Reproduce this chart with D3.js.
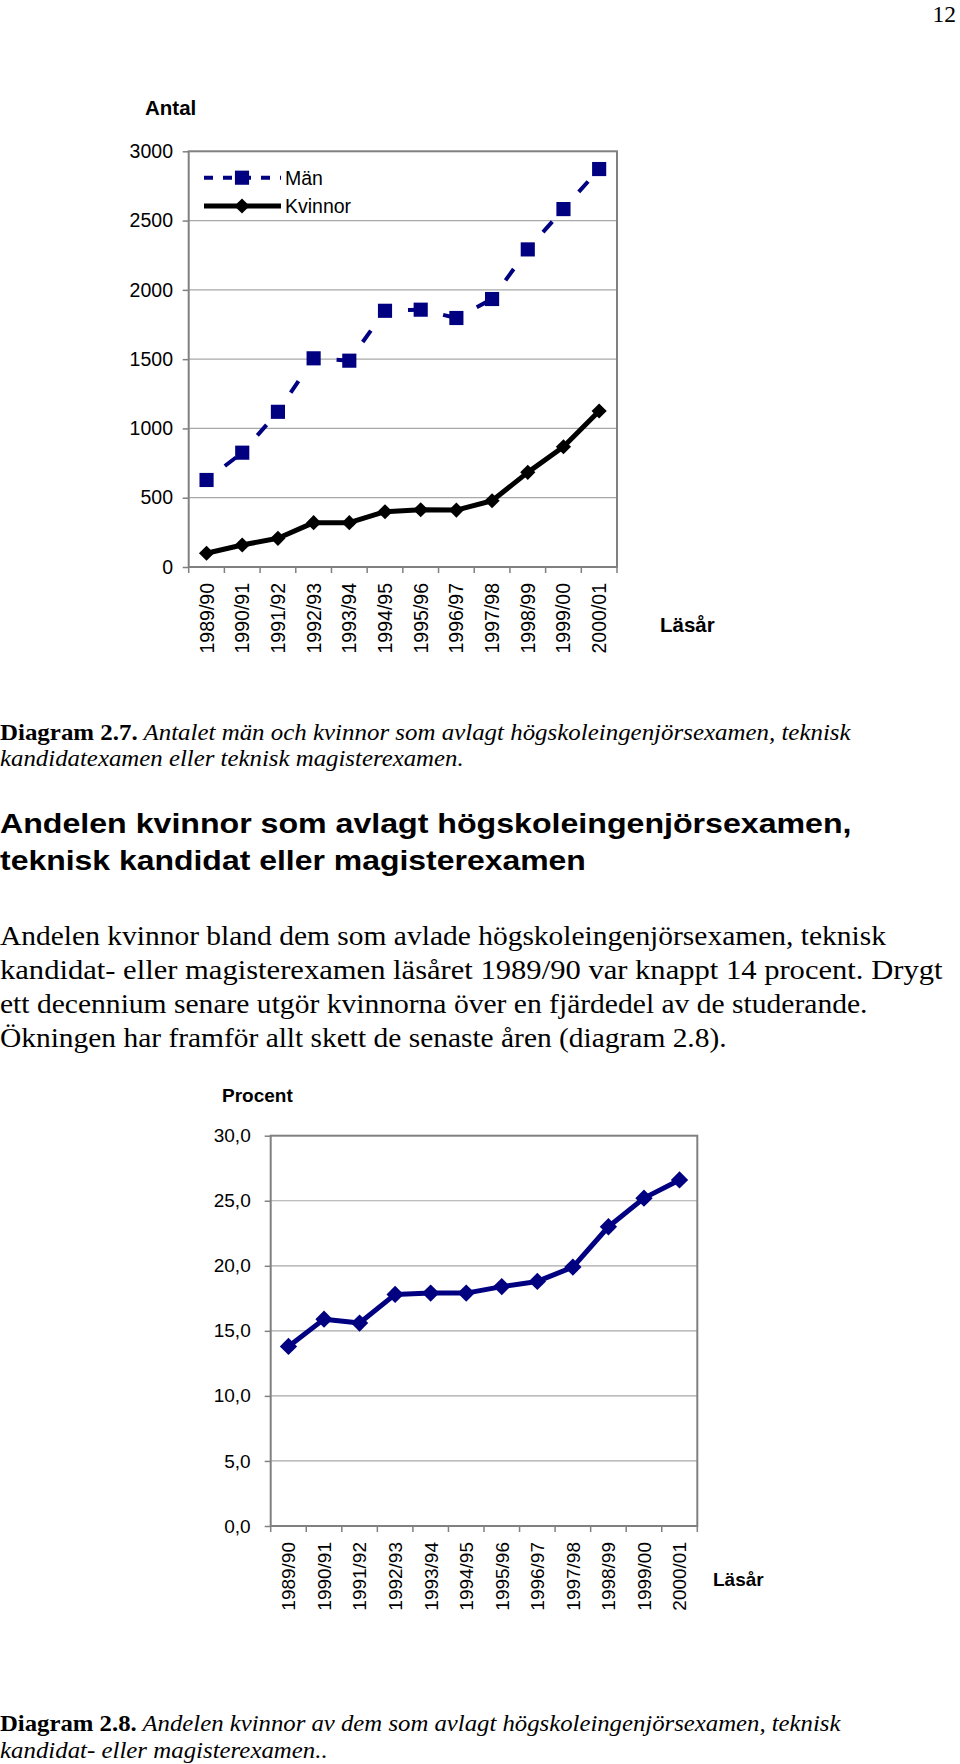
<!DOCTYPE html>
<html><head><meta charset="utf-8">
<script src="https://cdn.jsdelivr.net/npm/d3@7"></script>
<style>body{margin:0;background:#fff} svg{display:block}</style>
</head><body>
<svg id="c" width="960" height="1764"></svg>
<script>
// ---------- DATA ----------
const categories = ["1989/90","1990/91","1991/92","1992/93","1993/94","1994/95","1995/96","1996/97","1997/98","1998/99","1999/00","2000/01"];
const manValues = [628, 825, 1120, 1506, 1489, 1849, 1857, 1797, 1934, 2292, 2583, 2872];
const kvinnorValues = [99, 159, 207, 320, 320, 399, 413, 411, 478, 683, 868, 1126];
const procentValues = [13.8, 15.9, 15.6, 17.8, 17.9, 17.9, 18.4, 18.8, 19.9, 23.0, 25.2, 26.6];
const antalTicks = [0, 500, 1000, 1500, 2000, 2500, 3000];
const procentTicks = [0, 5, 10, 15, 20, 25, 30];
const seriesNames = ["Män", "Kvinnor"];

const pageNumber = "12";
const caption1 = {bold: "Diagram 2.7.", italic: [" Antalet män och kvinnor som avlagt högskoleingenjörsexamen, teknisk", "kandidatexamen eller teknisk magisterexamen."]};
const headingLines = ["Andelen kvinnor som avlagt högskoleingenjörsexamen,", "teknisk kandidat eller magisterexamen"];
const bodyLines = [
  "Andelen kvinnor bland dem som avlade högskoleingenjörsexamen, teknisk",
  "kandidat- eller magisterexamen läsåret 1989/90 var knappt 14 procent. Drygt",
  "ett decennium senare utgör kvinnorna över en fjärdedel av de studerande.",
  "Ökningen har framför allt skett de senaste åren (diagram 2.8)."
];
const caption2 = {bold: "Diagram 2.8.", italic: [" Andelen kvinnor av dem som avlagt högskoleingenjörsexamen, teknisk", "kandidat- eller magisterexamen.."]};

// ---------- LAYOUT ----------
const SANS = "'Liberation Sans', Arial, sans-serif";
const SERIF = "'Liberation Serif', 'Times New Roman', serif";
const NAVY = "#000080";
const svg = d3.select("#c");

function fitWidth(sel, x0, target) {
  const w = sel.node().getBBox().width;
  const s = target / w;
  sel.attr("transform", `translate(${x0},0) scale(${s},1) translate(${-x0},0)`);
}

function drawChart(cfg) {
  const g = svg.append("g");
  const x = d3.scaleBand().domain(categories).range([cfg.x0, cfg.x1]);
  const y = d3.scaleLinear().domain([0, d3.max(cfg.ticks)]).range([cfg.yb, cfg.yt]);

  g.append("g").selectAll("line").data(cfg.ticks.slice(1, -1)).join("line")
    .attr("x1", cfg.x0).attr("x2", cfg.x1)
    .attr("y1", d => y(d)).attr("y2", d => y(d))
    .attr("stroke", "#a8a8a8").attr("stroke-width", 1.2);

  g.append("rect").attr("x", cfg.x0).attr("y", cfg.yt)
    .attr("width", cfg.x1 - cfg.x0).attr("height", cfg.yb - cfg.yt)
    .attr("fill", "none").attr("stroke", "#808080").attr("stroke-width", 2);

  const ya = g.append("g").attr("transform", `translate(${cfg.x0},0)`)
    .call(d3.axisLeft(y).tickValues(cfg.ticks).tickSize(6).tickSizeOuter(0).tickPadding(9).tickFormat(cfg.fmt));
  ya.select(".domain").remove();
  ya.selectAll(".tick line").attr("stroke", "#808080").attr("stroke-width", 1.5);
  ya.selectAll(".tick text").attr("font-family", SANS).attr("font-size", cfg.fs).attr("fill", "#000")
    .attr("x", -(cfg.x0 - cfg.labelRight));

  const xa = g.append("g").attr("transform", `translate(0,${cfg.yb})`)
    .call(d3.axisBottom(x).tickSize(0).tickSizeOuter(0));
  xa.select(".domain").remove();
  xa.selectAll(".tick text").attr("font-family", SANS).attr("font-size", cfg.fs).attr("fill", "#000")
    .attr("transform", "rotate(-90)").attr("text-anchor", "end")
    .attr("x", -cfg.xLabelGap).attr("y", 0).attr("dy", "0.36em");
  const edges = categories.map(c => x(c)).concat([cfg.x1]);
  g.append("g").selectAll("line").data(edges).join("line")
    .attr("x1", d => d).attr("x2", d => d).attr("y1", cfg.yb).attr("y2", cfg.yb + 6)
    .attr("stroke", "#808080").attr("stroke-width", 1.5);

  g.append("text").text(cfg.yTitle).attr("x", cfg.yTitlePos[0]).attr("y", cfg.yTitlePos[1])
    .attr("font-family", SANS).attr("font-weight", "bold").attr("font-size", cfg.titleFs);
  g.append("text").text("Läsår").attr("x", cfg.xTitlePos[0]).attr("y", cfg.xTitlePos[1])
    .attr("font-family", SANS).attr("font-weight", "bold").attr("font-size", cfg.titleFs);

  return {g, x, y, cx: c => x(c) + x.bandwidth() / 2};
}

svg.append("text").text(pageNumber).attr("x", 956).attr("y", 21.5)
  .attr("text-anchor", "end").attr("font-family", SERIF).attr("font-size", 23.5);

// ---------- CHART 1 ----------
const c1 = drawChart({
  x0: 188.7, x1: 617, yt: 151.3, yb: 567, ticks: antalTicks, fmt: d3.format("d"),
  fs: 19.5, labelRight: 173, xLabelGap: 16, yTitle: "Antal", yTitlePos: [145, 115],
  xTitlePos: [660, 632], titleFs: 20.5
});
const diamond = s => d3.symbol(d3.symbolSquare, s);

const manPts = categories.map((c, i) => [c1.cx(c), c1.y(manValues[i])]);
const segs = d3.pairs(manPts);
c1.g.append("g").selectAll("path").data(segs).join("path")
  .attr("d", d => d3.line()(d))
  .attr("fill", "none").attr("stroke", NAVY).attr("stroke-width", 4).attr("stroke-linecap", "butt")
  .each(function() {
    const L = this.getTotalLength();
    d3.select(this).attr("stroke-dasharray", `0,23,14,${L}`);
  });
c1.g.append("g").selectAll("path").data(manPts).join("path")
  .attr("d", d3.symbol(d3.symbolSquare, 200)())
  .attr("transform", d => `translate(${d[0]},${d[1]})`).attr("fill", NAVY);

const kvPts = categories.map((c, i) => [c1.cx(c), c1.y(kvinnorValues[i])]);
c1.g.append("path").attr("d", d3.line()(kvPts)).attr("fill", "none")
  .attr("stroke", "#000").attr("stroke-width", 5).attr("stroke-linejoin", "round");
c1.g.append("g").selectAll("path").data(kvPts).join("path")
  .attr("d", diamond(115)())
  .attr("transform", d => `translate(${d[0]},${d[1]}) rotate(45)`).attr("fill", "#000");

const lg = c1.g.append("g");
const legY = [177.7, 206];
lg.append("line").attr("x1", 204).attr("x2", 281).attr("y1", legY[0]).attr("y2", legY[0])
  .attr("stroke", NAVY).attr("stroke-width", 4).attr("stroke-dasharray", "9,10");
lg.append("path").attr("d", d3.symbol(d3.symbolSquare, 200)())
  .attr("transform", `translate(242,${legY[0]})`).attr("fill", NAVY);
lg.append("line").attr("x1", 204).attr("x2", 281).attr("y1", legY[1]).attr("y2", legY[1])
  .attr("stroke", "#000").attr("stroke-width", 5);
lg.append("path").attr("d", diamond(115)())
  .attr("transform", `translate(242,${legY[1]}) rotate(45)`).attr("fill", "#000");
lg.selectAll("text").data(seriesNames).join("text").text(d => d)
  .attr("x", 285).attr("y", (d, i) => legY[i]).attr("dy", "0.36em")
  .attr("font-family", SANS).attr("font-size", 19.5);

// ---------- TEXT BLOCK ----------
function caption(cap, baselines, widths) {
  cap.italic.forEach((line, i) => {
    const t = svg.append("text").attr("x", 0).attr("y", baselines[i])
      .attr("font-family", SERIF).attr("font-size", 23);
    if (i === 0) t.append("tspan").attr("font-weight", "bold").text(cap.bold);
    t.append("tspan").attr("font-style", "italic").text(line);
    fitWidth(t, 0, widths[i]);
  });
}
caption(caption1, [740, 766], [852, 464]);

const headBase = [833, 870], headW = [852, 586];
headingLines.forEach((l, i) => {
  const t = svg.append("text").text(l).attr("x", 0).attr("y", headBase[i])
    .attr("font-family", SANS).attr("font-weight", "bold").attr("font-size", 28.5);
  fitWidth(t, 0, headW[i]);
});

const bodyBase = [945, 979, 1013, 1047], bodyW = [886, 943, 868, 727];
bodyLines.forEach((l, i) => {
  const t = svg.append("text").text(l).attr("x", 0).attr("y", bodyBase[i])
    .attr("font-family", SERIF).attr("font-size", 28);
  fitWidth(t, 0, bodyW[i]);
});

// ---------- CHART 2 ----------
const fmtP = v => d3.format(".1f")(v).replace(".", ",");
const c2 = drawChart({
  x0: 270.7, x1: 697.3, yt: 1135.7, yb: 1526, ticks: procentTicks, fmt: fmtP,
  fs: 19, labelRight: 250.7, xLabelGap: 16, yTitle: "Procent", yTitlePos: [222, 1102],
  xTitlePos: [713, 1586], titleFs: 19
});
const pPts = categories.map((c, i) => [c2.cx(c), c2.y(procentValues[i])]);
c2.g.append("path").attr("d", d3.line()(pPts)).attr("fill", "none")
  .attr("stroke", NAVY).attr("stroke-width", 5).attr("stroke-linejoin", "round");
c2.g.append("g").selectAll("path").data(pPts).join("path")
  .attr("d", diamond(150)())
  .attr("transform", d => `translate(${d[0]},${d[1]}) rotate(45)`).attr("fill", NAVY);

caption(caption2, [1731, 1758], [842, 328]);
</script>
</body></html>
